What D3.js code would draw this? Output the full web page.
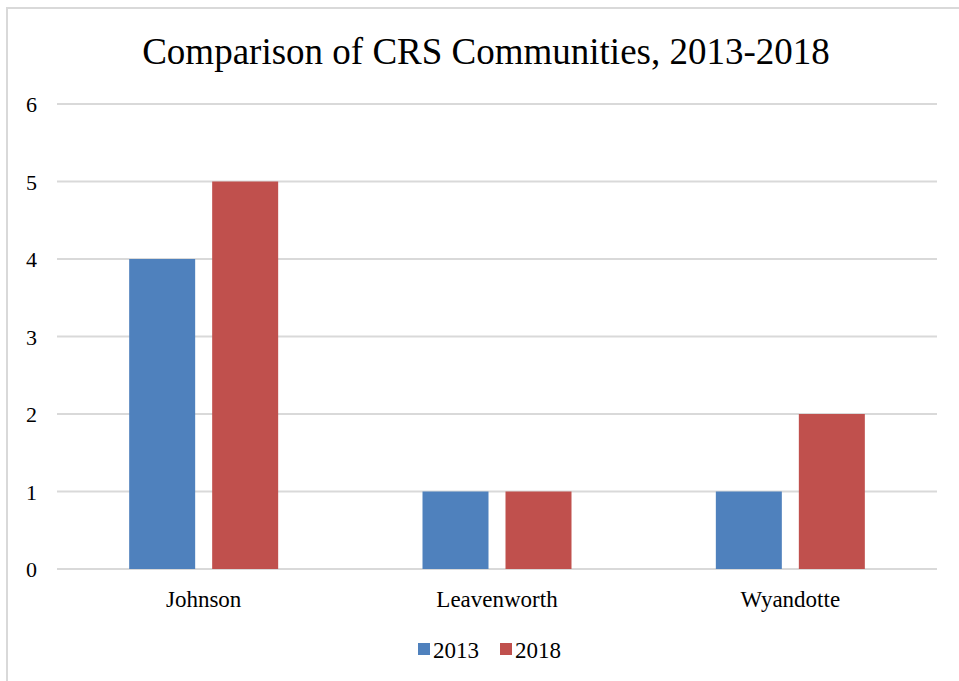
<!DOCTYPE html>
<html><head><meta charset="utf-8">
<script src="https://cdn.jsdelivr.net/npm/d3@7"></script>
<style>body{margin:0;background:#fff}</style>
</head><body>
<script>
const categories = ["Johnson", "Leavenworth", "Wyandotte"];
const seriesNames = ["2013", "2018"];
const values2013 = [4, 1, 1];
const values2018 = [5, 1, 2];
const yTicks = [0, 1, 2, 3, 4, 5, 6];
const colors = ["#4f81bd", "#c0504d"];
const title = "Comparison of CRS Communities, 2013-2018";

(function () {
const W = 959, H = 681;
const font = "Liberation Serif";
const svg = d3.select("body").append("svg").attr("width", W).attr("height", H)
  .style("font-family", font);
svg.append("rect").attr("width", W).attr("height", H).attr("fill", "#fff");
svg.append("rect").attr("x", 7).attr("y", 8).attr("width", W + 10).attr("height", H + 10)
  .attr("fill", "none").attr("stroke", "#d9d9d9").attr("stroke-width", 2);

const pl = 57, pr = 937, pt = 104, pb = 569;
const x0 = d3.scaleBand().domain(categories).range([pl, pr]).paddingInner(0).paddingOuter(0);
const y = d3.scaleLinear().domain([0, 6]).range([pb, pt]);
const bw = 66, gap = 17;
const x1 = d3.scaleOrdinal().domain(seriesNames).range([-(bw + gap / 2), gap / 2]);

svg.append("text").attr("x", 486).attr("y", 64).attr("text-anchor", "middle")
  .style("font-family", font).style("font-size", "37px").attr("fill", "#000").text(title);

const g = svg.append("g");
g.selectAll("line.grid").data(yTicks).enter().append("line")
  .attr("x1", pl).attr("x2", pr).attr("y1", d => y(d)).attr("y2", d => y(d))
  .attr("stroke", "#d9d9d9").attr("stroke-width", 2);
g.selectAll("text.tick").data(yTicks).enter().append("text")
  .attr("x", 37).attr("y", d => y(d) + 8).attr("text-anchor", "end")
  .style("font-family", font).style("font-size", "22px").attr("fill", "#000").text(d => d);

const data = [values2013, values2018];
seriesNames.forEach((s, si) => {
  g.selectAll("rect.s" + si).data(categories).enter().append("rect")
    .attr("x", c => x0(c) + x0.bandwidth() / 2 + x1(s))
    .attr("width", bw)
    .attr("y", (c, i) => y(data[si][i]))
    .attr("height", (c, i) => y(0) - y(data[si][i]))
    .attr("fill", colors[si]);
});

g.selectAll("text.cat").data(categories).enter().append("text")
  .attr("x", c => x0(c) + x0.bandwidth() / 2).attr("y", 607).attr("text-anchor", "middle")
  .style("font-family", font).style("font-size", "23px").attr("fill", "#000").text(c => c);

const lg = svg.append("g");
const legX = [418, 500];
seriesNames.forEach((s, i) => {
  lg.append("rect").attr("x", legX[i]).attr("y", 643).attr("width", 12).attr("height", 12).attr("fill", colors[i]);
  lg.append("text").attr("x", legX[i] + 15).attr("y", 658)
    .style("font-family", font).style("font-size", "23px").attr("fill", "#000").text(s);
});
})();
</script>
</body></html>
